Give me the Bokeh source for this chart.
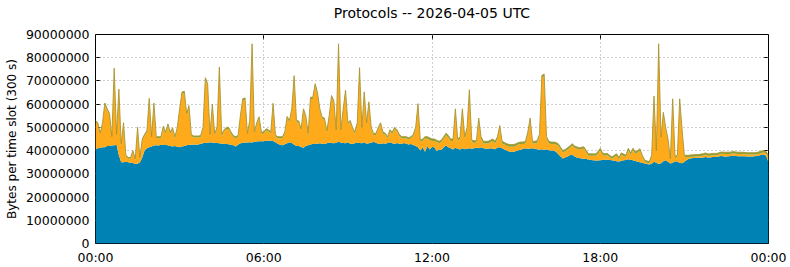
import numpy as np
from bokeh.plotting import figure
from bokeh.models import Range1d, FixedTicker, NumeralTickFormatter, LinearAxis
from bokeh.embed import file_html
from bokeh.resources import INLINE

# time slots of 300 s across the day (minutes after 00:00 UTC)
slot_minutes = list(range(0, 24 * 60 + 1, 5))

# upper edge of the blue protocol (millions of bytes per slot)
blue_top = [
    40.5, 41, 41.2, 41.5, 41.5, 42, 42, 42.2, 42.3, 42.5,
    38, 35, 35, 35.2, 35, 34.8, 34.7, 34.2, 34.3, 35,
    37, 40, 41, 41.5, 41.8, 42.2, 42.3, 42.2, 42.5, 42.4,
    42.4, 42.3, 42, 41.8, 42, 41.7, 41.5, 41.8, 42, 42.3,
    42.5, 42.5, 42.6, 42.5, 42.6, 43, 43.2, 43.5, 43.3, 43.6,
    43.5, 43.4, 43.3, 43.2, 43, 43, 42.8, 42.7, 42.5, 42.3,
    41.8, 42.5, 43.2, 43.3, 43.5, 43.5, 43.6, 43.5, 43.8, 43.9,
    44, 44, 44, 44.2, 44.2, 44.4, 44.1, 43.6, 43, 42.5,
    42.3, 42.7, 43.2, 43.6, 43.3, 42.5, 42, 42, 41.6, 41.2,
    42, 42.3, 42.6, 42.8, 42.8, 43, 43.2, 43, 42.8, 43.2,
    43.5, 43.3, 43.2, 43.4, 43.8, 43.5, 43.3, 43.2, 43.6, 43,
    42.8, 43.2, 43.5, 43.3, 43.2, 43.6, 43, 43.2, 43.4, 43.8,
    43.4, 43, 42.8, 43.2, 43, 43.3, 43.6, 43.2, 42.9, 43.3,
    43, 42.8, 43.3, 43, 42.6, 42.9, 42.4, 42, 41.5, 40,
    41.5, 39.5, 42, 40.5, 41.6, 41.5, 39.8, 40.5, 40.3, 41.5,
    42.2, 41.4, 41, 40.5, 41.2, 40.8, 40.5, 41, 40.6, 40.8,
    41, 40.8, 41, 41.2, 41, 41.4, 41, 40.8, 40.8, 41,
    40.8, 40.6, 41.3, 41.5, 41, 40.5, 40, 39.6, 39.4, 39.5,
    39.8, 40.2, 40.4, 40.8, 41, 40.7, 40.9, 41, 40.8, 40.6,
    40.4, 40.6, 40.3, 40.6, 40.2, 40, 40, 39.5, 38.5, 37.5,
    36.6, 37, 37.5, 38, 38.3, 37.5, 37, 36.8, 36.6, 36.5,
    36.4, 36.2, 36, 35.8, 35.7, 35.7, 35.8, 36, 36.2, 36.1,
    36, 35.8, 35.6, 35.4, 35.3, 35.5, 35.8, 36, 36.3, 36.1,
    35.8, 35.5, 35.2, 35, 34.8, 34.5, 34.2, 34, 34.3, 35.2,
    34.8, 34.2, 34.6, 35.4, 35.8, 35.2, 34.5, 34.8, 35.4, 35.2,
    34.8, 34.6, 35.2, 36, 36.5, 36.7, 36.8, 36.8, 37, 36.9,
    37, 37.2, 37, 37, 37.2, 37.3, 37.3, 37.6, 37.7, 37.5,
    37.5, 37.6, 37.7, 37.8, 37.7, 37.6, 37.6, 37.6, 37.6, 37.5,
    37.5, 37.5, 37.6, 37.7, 37.9, 38.2, 38.3, 37.8, 35,
]

# upper edge of the whole stack (millions of bytes per slot)
total_top = [
    53, 52, 47.5, 52, 60.5, 58, 56, 46, 75.5, 47,
    66.5, 43, 52, 38, 37, 37, 40, 36.5, 50, 37,
    45, 47, 48.5, 62.5, 46, 60.5, 46, 46, 46, 50.5,
    48, 51.5, 48, 49.8, 46, 50, 58, 65.2, 65.6, 56,
    59.4, 47, 46.3, 46.3, 46.3, 46.5, 50, 71.4, 68.8, 47,
    60, 47.4, 50, 76, 47, 49, 50, 50, 48, 46.5,
    46, 46.5, 55, 62.3, 62.7, 47.4, 53, 86, 48, 52,
    54.6, 48, 48, 49.4, 49, 48, 60.4, 46.7, 46, 46,
    46, 48, 54.7, 53, 58, 72.3, 53, 52.7, 49.4, 58,
    55, 47.4, 63, 63, 68.8, 65, 58, 54.4, 54, 48.5,
    55, 63.7, 61.5, 49, 86, 49, 58, 66, 52, 53,
    50, 48, 52, 75.7, 50, 65.3, 52, 61, 50, 47.4,
    47.4, 50, 52, 48, 47.5, 46, 49, 48, 50, 49,
    47, 46, 46, 46, 45.5, 46, 47, 50, 60.2, 44.5,
    45, 46, 46, 45.5, 45, 45, 44.5, 44, 44.5, 46,
    47.5, 46.5, 45, 45, 58, 45, 46, 58, 46, 50,
    66.2, 44.5, 44.3, 44.3, 54, 46, 44, 44, 44, 44.5,
    45, 44, 46, 50.8, 44, 43.5, 43, 42.6, 42.6, 42.6,
    43, 43.5, 43.7, 43.7, 44, 48, 54, 44, 44, 44.3,
    47, 72.3, 73, 46, 44, 43.7, 43.7, 43.5, 43, 41.5,
    40, 40.5, 41.2, 42, 43, 42, 41.6, 41.2, 41.5, 41.6,
    40, 38.6, 38.6, 38.6, 38.6, 39.5, 41, 39, 38.6, 38.8,
    38, 37.2, 38, 38.6, 37, 39, 38.5, 38, 41, 39,
    41, 39.5, 40, 40.8, 38, 36, 35.5, 35.3, 38, 63.5,
    40, 86, 45.8, 56.5, 50, 45, 36.5, 62.3, 37.5, 38,
    62.3, 49.3, 38, 38, 38, 38.2, 38.2, 38.3, 38.3, 38.5,
    38.6, 39, 38.6, 38.6, 38.8, 38.8, 38.8, 39.2, 39.4, 39.3,
    39.3, 39.3, 39.4, 39.6, 39.4, 39.3, 39.3, 39.3, 39.2, 39.1,
    39.1, 39.1, 39.1, 39.2, 39.5, 39.8, 40, 39.5, 38,
]

# thickness of the thin green protocol at the top of the stack (millions)
green_other = [
    0.7, 0.7, 0.6, 0.7, 0.8, 0.7, 0.7, 0.6, 0.8, 0.6,
    0.7, 0.5, 0.6, 0.5, 0.5, 0.5, 0.6, 0.5, 0.6, 0.5,
    0.6, 0.6, 0.7, 0.8, 0.7, 0.8, 0.7, 0.7, 0.7, 0.7,
    0.7, 0.7, 0.7, 0.7, 0.7, 0.7, 0.8, 0.8, 0.8, 0.7,
    0.8, 0.7, 0.7, 0.7, 0.7, 0.7, 0.7, 0.8, 0.8, 0.7,
    0.8, 0.7, 0.7, 0.8, 0.7, 0.7, 0.7, 0.7, 0.7, 0.7,
    0.7, 0.7, 0.7, 0.8, 0.8, 0.7, 0.7, 0.9, 0.7, 0.7,
    0.7, 0.7, 0.7, 0.7, 0.7, 0.7, 0.8, 0.7, 0.7, 0.7,
    0.7, 0.7, 0.7, 0.7, 0.8, 0.8, 0.7, 0.7, 0.7, 0.8,
    0.7, 0.7, 0.8, 0.8, 0.8, 0.8, 0.7, 0.7, 0.7, 0.7,
    0.7, 0.8, 0.8, 0.7, 0.9, 0.7, 0.7, 0.8, 0.7, 0.7,
    0.7, 0.7, 0.7, 0.8, 0.7, 0.8, 0.7, 0.8, 0.7, 0.7,
    0.7, 0.7, 0.7, 0.7, 0.7, 0.7, 0.7, 0.7, 0.7, 0.7,
    0.7, 0.7, 0.7, 0.7, 0.7, 0.7, 0.7, 0.7, 0.8, 0.7,
    0.8, 0.8, 0.9, 0.9, 0.9, 0.9, 0.8, 0.8, 0.9, 0.9,
    0.9, 0.9, 0.9, 0.9, 0.9, 0.9, 0.9, 0.9, 0.9, 0.9,
    0.9, 0.9, 0.9, 0.9, 0.9, 0.9, 0.9, 0.9, 0.9, 0.9,
    0.9, 0.9, 0.9, 0.9, 0.9, 0.9, 0.9, 0.9, 0.9, 0.9,
    0.9, 0.9, 0.9, 0.9, 0.9, 0.9, 0.9, 0.9, 0.9, 0.9,
    0.9, 0.9, 0.9, 0.9, 0.9, 0.9, 0.9, 0.9, 0.9, 0.8,
    0.8, 0.8, 0.8, 0.9, 0.9, 0.8, 0.8, 0.8, 0.8, 0.8,
    0.8, 0.8, 0.8, 0.8, 0.8, 0.8, 0.8, 0.8, 0.8, 0.8,
    0.8, 0.8, 0.8, 0.8, 0.8, 0.8, 0.8, 0.8, 0.8, 0.8,
    0.8, 0.8, 0.8, 0.8, 0.8, 0.7, 0.7, 0.7, 0.8, 0.8,
    0.7, 0.9, 0.8, 0.8, 0.8, 0.8, 0.7, 0.8, 0.7, 0.7,
    0.8, 0.8, 0.8, 0.8, 0.8, 0.8, 0.8, 0.8, 0.8, 0.8,
    0.8, 0.8, 0.8, 0.8, 0.8, 0.8, 0.8, 0.8, 0.8, 0.8,
    0.8, 0.8, 0.8, 0.8, 0.8, 0.8, 0.8, 0.8, 0.8, 0.8,
    0.8, 0.8, 0.8, 0.8, 0.8, 0.8, 0.8, 0.8, 0.8,
]

title_text = "Protocols -- 2026-04-05 UTC"
x_tick_hours = [0, 6, 12, 18, 24]
x_tick_labels = ["00:00", "06:00", "12:00", "18:00", "00:00"]
y_ticks = [0, 10e6, 20e6, 30e6, 40e6, 50e6, 60e6, 70e6, 80e6, 90e6]

FONT = "DejaVu Sans"

hours = np.array(slot_minutes) / 60.0
blue = np.array(blue_top) * 1e6
total = np.array(total_top) * 1e6
orange = total - np.array(green_other) * 1e6

p = figure(
    width=790, height=267, output_backend="svg", toolbar_location=None,
    x_range=Range1d(0, 24), y_range=Range1d(0, 90e6),
    x_axis_location=None, y_axis_location=None,
    min_border_left=95, min_border_right=22, min_border_top=34, min_border_bottom=24,
)
p.background_fill_color = "white"
p.border_fill_color = "white"
p.outline_line_color = "black"
p.outline_line_width = 1
p.outline_line_alpha = 1

xt = FixedTicker(ticks=x_tick_hours, minor_ticks=[])
yt = FixedTicker(ticks=y_ticks, minor_ticks=[])


def tick_axis(ticker):
    """Inward tick marks only, drawn beneath the filled areas."""
    ax = LinearAxis(ticker=ticker)
    ax.major_tick_in = 5
    ax.major_tick_out = 0
    ax.minor_tick_in = 0
    ax.minor_tick_out = 0
    ax.axis_line_color = None
    ax.major_tick_line_color = "black"
    ax.major_label_text_font_size = "0px"
    ax.major_label_text_alpha = 0
    ax.major_label_standoff = 0
    ax.level = "underlay"
    return ax


def label_axis(ticker, standoff):
    ax = LinearAxis(ticker=ticker)
    ax.major_tick_in = 0
    ax.major_tick_out = 0
    ax.minor_tick_in = 0
    ax.minor_tick_out = 0
    ax.axis_line_color = None
    ax.major_tick_line_color = None
    ax.major_label_text_font = FONT
    ax.major_label_text_font_size = "12.5px"
    ax.major_label_text_color = "black"
    ax.major_label_standoff = standoff
    return ax


# tick-mark axes first so they sit right on the frame
for side, t in (("left", yt), ("right", yt), ("above", xt), ("below", xt)):
    p.add_layout(tick_axis(t), side)

xa = label_axis(xt, 6)
xa.major_label_overrides = {h: lab for h, lab in zip(x_tick_hours, x_tick_labels)}
p.add_layout(xa, "below")

ya = label_axis(yt, 6)
ya.formatter = NumeralTickFormatter(format="0")
ya.axis_label = "Bytes per time slot (300 s)"
ya.axis_label_text_font = FONT
ya.axis_label_text_font_size = "12px"
ya.axis_label_text_font_style = "normal"
ya.axis_label_text_color = "black"
ya.axis_label_standoff = 4
p.add_layout(ya, "left")

# chart title, carried by a tickless axis above the frame so it is centred
# over the plotting area and sits close to the top edge of the page
title_axis = label_axis(FixedTicker(ticks=[], minor_ticks=[]), 0)
title_axis.major_label_text_font_size = "0px"
title_axis.axis_label = title_text
title_axis.axis_label_text_font = FONT
title_axis.axis_label_text_font_size = "14px"
title_axis.axis_label_text_font_style = "normal"
title_axis.axis_label_text_color = "black"
title_axis.axis_label_standoff = 14
p.add_layout(title_axis, "above")

for dim, t in ((0, xt), (1, yt)):
    p.grid[dim].ticker = t
    p.grid[dim].grid_line_color = "#a0a0a0"
    p.grid[dim].grid_line_dash = "1 3"
    p.grid[dim].grid_line_width = 1

p.varea(x=hours, y1=np.zeros_like(blue), y2=blue, fill_color="#0082b4")
p.varea(x=hours, y1=blue, y2=orange, fill_color="#ffaa1a")
p.varea(x=hours, y1=orange, y2=total, fill_color="#8fa034")
p.line(x=hours, y=total, line_color="#a8922a", line_width=1, line_alpha=0.85)

open("out.html", "w").write(file_html(p, INLINE))
